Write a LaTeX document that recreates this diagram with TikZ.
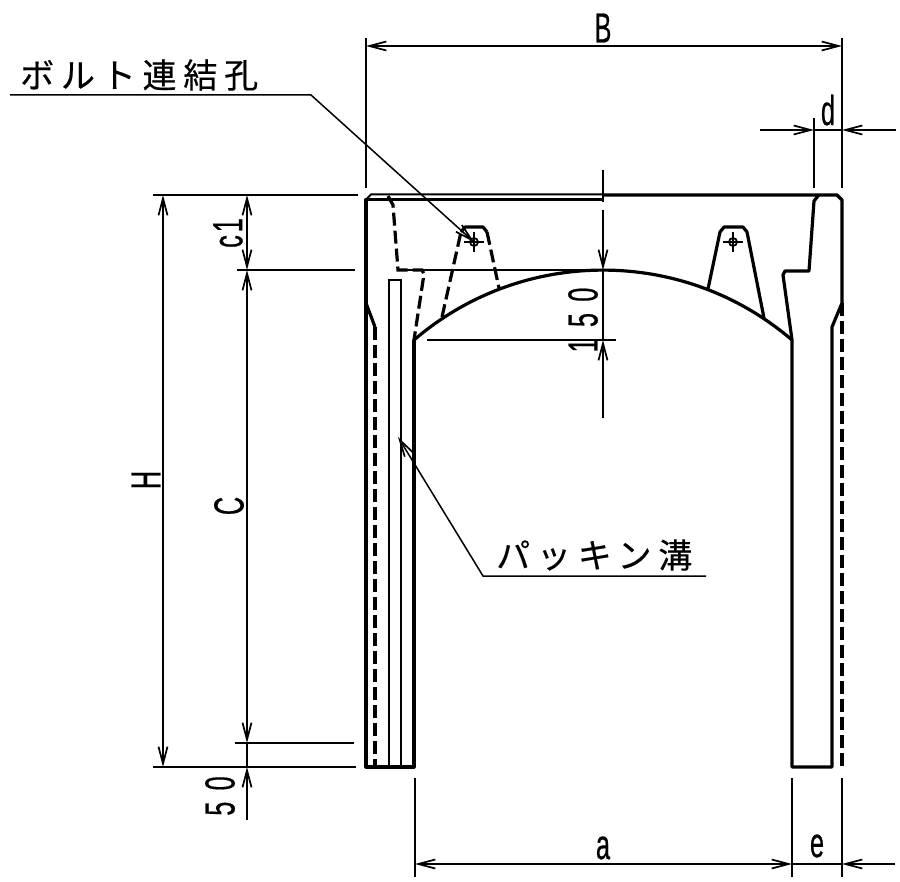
\documentclass[tikz,border=0pt]{standalone}
\usepackage{fontspec}
\setmainfont{Liberation Sans}[FakeBold=0.7]
\newfontfamily\jpfont{Noto Sans CJK JP}[LetterSpace=20,FakeBold=0.4]
\usetikzlibrary{arrows.meta}
\newcommand{\cadtext}[1]{\scalebox{.6}[1]{\fontsize{42}{42}\selectfont #1}}
\tikzset{
  outline/.style={line width=3.2pt, line join=round},
  hidden/.style={line width=3.2pt, dash pattern=on 13pt off 5pt},
  thin line/.style={line width=1.5pt},
  dim/.style={line width=1.5pt, >={Straight Barb[length=17pt,width=9pt,line width=1.7pt]}},
  dimlabel/.style={inner sep=0pt},
  jplabel/.style={inner sep=0pt, anchor=west, font=\fontsize{34}{34}\selectfont\jpfont}
}

\begin{document}
\begin{tikzpicture}[x=1pt, y=-1pt]
  \useasboundingbox (0,0) rectangle (900,882);

  % Body outline
  \draw[outline] (603,195) -- (837,195) -- (842,200) -- (842,303) -- (832,327) -- (832,767) -- (792,767) -- (792,340) -- (783,275) -- (785,271) -- (809,271) -- (814,201) -- (818,196);
  \draw[outline] (366,303) -- (375,327);
  \draw[outline] (603,199.5) -- (366,199.5) -- (366,767) -- (414,767) -- (414,340);
  \draw[outline] (414,340) .. controls (522.6,246.8) and (683.4,246.8) .. (792,340);
  \draw[line width=2pt] (366,199.5) -- (371,194.5) -- (603,194.5);

  % Hidden edges
  \draw[hidden] (375,327) -- (375,767);
  \draw[hidden] (842,303) -- (842,767);
  \draw[hidden] (388,196) -- (393,205) -- (398,270) -- (422,270) -- (424,274) -- (414,340);
  \draw[hidden] (442,317) -- (461,232);
  \draw[hidden] (487,232) -- (499,288);
  \draw[outline] (461,232) -- (465,227) -- (483,227) -- (487,232);

  % Lug on the right
  \draw[outline] (708,289) -- (720,232) -- (724,227) -- (743,227) -- (747,232) -- (764,318);

  % Bolt holes
  \foreach \hx/\hname in {474/holeL, 733/holeR} {
    \coordinate (\hname) at (\hx,242);
    \draw[line width=1.8pt] (\hname) circle (4pt);
    \draw[thin line] (\hx-10,242) -- (\hx+10,242) (\hx,232) -- (\hx,252);
  }

  % Packing groove
  \draw[line width=2.6pt] (389,767) -- (389,280) -- (401,280) -- (401,767);

  % Leader lines
  \coordinate (boltA) at (10,95);
  \coordinate (boltB) at (311,95);
  \draw[dim, ->] (boltA) -- (boltB) -- (holeL);
  \node[jplabel] (boltlabel) at (20,75) {ボルト連結孔};
  \coordinate (grooveA) at (706,576);
  \coordinate (grooveB) at (483,576);
  \coordinate (grooveC) at (398,437);
  \draw[dim, ->] (grooveA) -- (grooveB) -- (grooveC);
  \node[jplabel] (groovelabel) at (496,555) {パッキン溝};

  % Extension lines
  \draw[thin line] (366,38) -- (366,188);
  \draw[thin line] (842,38) -- (842,188);
  \draw[thin line] (814,118) -- (814,188);
  \draw[thin line] (153,195) -- (358,195);
  \draw[thin line] (153,767) -- (356,767);
  \draw[thin line] (237,270) -- (355,270);
  \draw[thin line] (398,270) -- (603,270);
  \draw[thin line] (235,743) -- (354,743);
  \draw[thin line] (427,340) -- (616,340);
  \draw[thin line] (415,778) -- (415,877);
  \draw[thin line] (792,778) -- (792,877);
  \draw[thin line] (842,778) -- (842,877);
  \draw[thin line] (603,170) -- (603,202);

  % Dimension B
  \coordinate (bL) at (366,46);
  \coordinate (bR) at (842,46);
  \draw[dim, <->] (bL) -- (bR);
  \node[dimlabel] (blabel) at (603,28) {\cadtext{B}};

  % Dimension d
  \coordinate (dL) at (814,130);
  \coordinate (dR) at (842,130);
  \coordinate (dLout) at (760,130);
  \coordinate (dRout) at (896,130);
  \draw[dim, ->] (dLout) -- (dL);
  \draw[dim, ->] (dRout) -- (dR);
  \draw[dim] (dL) -- (dR);
  \node[dimlabel] (dlabel) at (828,110) {\cadtext{d}};

  % Dimension H
  \coordinate (hT) at (163,195);
  \coordinate (hB) at (163,767);
  \draw[dim, <->] (hT) -- (hB);
  \node[dimlabel, rotate=90] (hlabel) at (146,480) {\cadtext{H}};

  % Dimensions c1, C and 50
  \coordinate (cT) at (247,195);
  \coordinate (cM) at (247,270);
  \coordinate (cN) at (247,743);
  \coordinate (cB) at (247,767);
  \coordinate (cEnd) at (247,820);
  \draw[dim, <->] (cT) -- (cM);
  \draw[dim, <->] (cM) -- (cN);
  \draw[dim, ->] (cEnd) -- (cB);
  \draw[dim] (cN) -- (cB);
  \node[dimlabel, rotate=90] (c1label) at (228,233) {\cadtext{c\hspace{.12em}1}};
  \node[dimlabel, rotate=90] (clabel) at (229,506) {\cadtext{C}};
  \node[dimlabel, rotate=90] (fiftylabel) at (220,796) {\cadtext{5\hspace{.45em}0}};

  % Dimension 150
  \coordinate (rT) at (603,270);
  \coordinate (rB) at (603,340);
  \coordinate (rTop) at (603,210);
  \coordinate (rEnd) at (603,418);
  \draw[dim, ->] (rTop) -- (rT);
  \draw[dim, ->] (rEnd) -- (rB);
  \draw[dim] (rT) -- (rB);
  \node[dimlabel, rotate=90] (rlabel) at (583,320) {\cadtext{1\hspace{.45em}5\hspace{.45em}0}};

  % Dimensions a and e
  \coordinate (aL) at (415,864);
  \coordinate (aR) at (792,864);
  \coordinate (eR) at (842,864);
  \coordinate (eOut) at (895,864);
  \draw[dim, <->] (aL) -- (aR);
  \draw[dim] (aR) -- (eR);
  \draw[dim, ->] (eOut) -- (eR);
  \node[dimlabel] (alabel) at (603,848) {\cadtext{a}};
  \node[dimlabel] (elabel) at (817,846) {\cadtext{e}};
\end{tikzpicture}
\end{document}
